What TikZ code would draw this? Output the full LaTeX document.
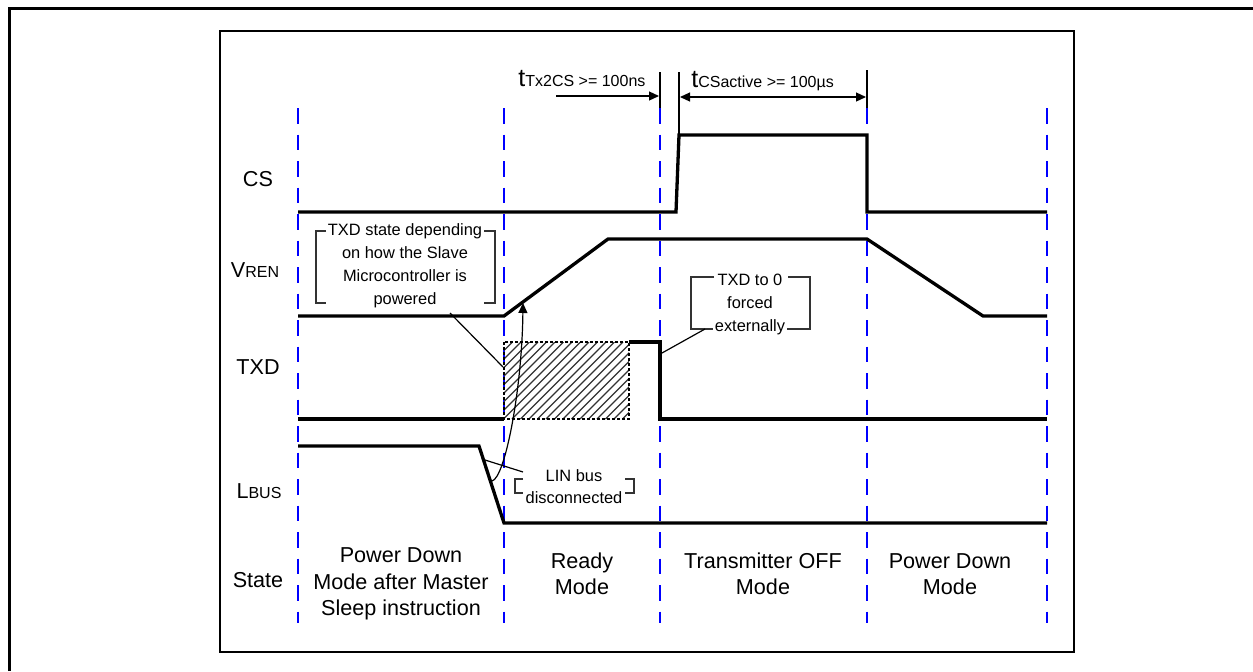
\documentclass[tikz,border=0pt]{standalone}
\usepackage{fontspec}
\setmainfont{Liberation Sans}
\usetikzlibrary{arrows.meta}
\newcommand{\lblfont}{\fontsize{10.8}{13.25}\selectfont}
\newcommand{\notefont}{\fontsize{8.2}{11.5}\selectfont}
\newcommand{\subfont}{\fontsize{8}{10}\selectfont}
\newcommand{\tfont}{\fontsize{12.5}{14}\selectfont}
\begin{document}
\begin{tikzpicture}[x=0.5pt, y=-0.5pt, >={Stealth[length=5pt,width=4.5pt,inset=0pt]},
  sigline/.style={line width=1.65pt, line join=miter},
  modeline/.style={blue, line width=1.15pt, dash pattern=on 7.75pt off 5.5pt},
  thinline/.style={line width=0.6pt},
  bracketline/.style={line width=0.55pt, black!80},
  hatchline/.style={line width=0.55pt, black!80},
  lbl/.style={font=\lblfont, inner sep=0pt},
  statetext/.style={font=\lblfont, align=center, inner sep=0pt},
  notetext/.style={font=\notefont, align=center, inner sep=0pt}]
\useasboundingbox (0,0) rectangle (1253,671);
\draw[line width=1.5pt] (9,671) -- (9,8) -- (1253,8);
\draw[line width=0.75pt] (220,31) rectangle (1074,652);

\foreach \x in {298,504,660,867,1047}
  \draw[modeline] (\x,108) -- (\x,623);

\node[lbl] (cs) at (258,179) {CS};
\node[lbl] (vren) at (255,270) {V{\subfont REN}};
\node[lbl] (txd) at (258,367) {TXD};
\node[lbl] (lbus) at (259,491) {L{\subfont BUS}};
\node[lbl] (state) at (258,580) {State};

\node[statetext] (st1) at (401,584) {Power Down\\Mode after Master\\Sleep instruction};
\node[statetext] (st2) at (582,574) {Ready\\Mode};
\node[statetext] (st3) at (763,574) {Transmitter OFF\\Mode};
\node[statetext] (st4) at (950,574) {Power Down\\Mode};

\begin{scope}
\clip (504,342) rectangle (629,419);
\foreach \i in {0,...,24}
  \draw[hatchline] (427+8.5*\i,419) -- ++(77,-77);
\end{scope}
\draw[line width=0.75pt, dash pattern=on 1.5pt off 1pt] (504,342) rectangle (629,419);

\draw[sigline] (298,212) -- (676,212) -- (679,135) -- (867,135) -- (867,212) -- (1047,212);
\draw[sigline] (298,316) -- (504,316) -- (608,239) -- (867,239) -- (983,316) -- (1047,316);
\draw[sigline] (298,419) -- (504,419);
\draw[sigline] (629,342) -- (660,342) -- (660,419) -- (1047,419);
\draw[sigline] (298,446) -- (479,446) -- (504,523) -- (1047,523);

\coordinate (tickA) at (660,72);
\coordinate (tickB) at (679,72);
\coordinate (tickC) at (867,70);
\draw[thinline] (tickA) -- (660,108);
\draw[thinline] (tickB) -- (679,135);
\draw[thinline] (tickC) -- (867,108);
\node[anchor=base west, inner sep=0pt] (tTx) at (518,86) {{\tfont t}{\subfont Tx2CS >= 100ns}};
\node[anchor=base west, inner sep=0pt] (tCS) at (691,87) {{\tfont t}{\subfont CSactive >= 100µs}};
\coordinate (txFrom) at (556,96);
\coordinate (txTo) at (659,96);
\coordinate (csFrom) at (680,97);
\coordinate (csTo) at (866,97);
\draw[thinline, ->] (txFrom) -- (txTo);
\draw[thinline, <->] (csFrom) -- (csTo);

\node[notetext] (notePwr) at (405,266) {TXD state depending\\on how the Slave\\Microcontroller is\\powered};
\draw[bracketline] (326,231) -- (316,231) -- (316,303) -- (326,303);
\draw[bracketline] (484,231) -- (495,231) -- (495,303) -- (484,303);
\coordinate (pwrFoot) at (450,313);
\coordinate (hatchHit) at (503,367);
\draw[thinline] (pwrFoot) -- (hatchHit);

\node[notetext] (noteTxd) at (750,304) {TXD to 0\\forced\\externally};
\draw[bracketline] (714,277) -- (691,277) -- (691,329) -- (713,329);
\draw[bracketline] (788,277) -- (810,277) -- (810,329) -- (787,329);
\coordinate (txdFoot) at (705,329);
\coordinate (txdHit) at (662,353);
\draw[thinline] (txdFoot) -- (txdHit);

\node[notetext, font=\fontsize{8.2}{11}\selectfont] (noteLin) at (574,487) {LIN bus\\disconnected};
\draw[bracketline] (523,479) -- (515,479) -- (515,493) -- (523,493);
\draw[bracketline] (625,479) -- (634,479) -- (634,493) -- (625,493);
\coordinate (linFoot) at (523,472);
\coordinate (lbusHit) at (485,460);
\coordinate (lbusStart) at (492,481);
\coordinate (vrenHit) at (523,303);
\draw[thinline] (linFoot) -- (lbusHit);
\draw[thinline, ->] (lbusStart) .. controls (505,478) and (522,390) .. (vrenHit);
\end{tikzpicture}
\end{document}
